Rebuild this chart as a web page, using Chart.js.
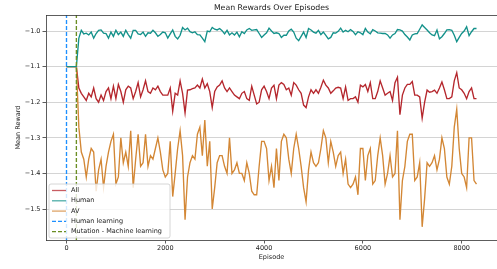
<!DOCTYPE html>
<html>
<head>
<meta charset="utf-8">
<script src="https://cdn.jsdelivr.net/npm/chart.js@4.4.1/dist/chart.umd.min.js"></script>
<style>
  html, body { margin: 0; padding: 0; background: #fff; }
  canvas { display: block; }
</style>
</head>
<body>
<canvas id="rewards" width="497" height="269"></canvas>
<script>
// episodes 0..8300, one point every 50
var episodes = [];
for (var e = 0; e <= 8300; e += 50) episodes.push(e);

var allRewards = [
  -1.1, -1.1, -1.1, -1.1, -1.1,
  -1.16, -1.175, -1.185, -1.195, -1.175, -1.185, -1.16, -1.19, -1.2, -1.18,
  -1.195, -1.17, -1.16, -1.19, -1.155, -1.19, -1.15, -1.17, -1.2, -1.165,
  -1.155, -1.16, -1.19, -1.17, -1.145, -1.185, -1.165, -1.14, -1.17, -1.175,
  -1.16, -1.165, -1.155, -1.17, -1.18,
  -1.18, -1.18, -1.16, -1.225, -1.175, -1.18, -1.14, -1.175, -1.23, -1.166,
  -1.165, -1.162, -1.16, -1.152, -1.16, -1.135, -1.16, -1.148, -1.17, -1.215,
  -1.17, -1.157, -1.152, -1.14, -1.16, -1.17, -1.16, -1.17, -1.18, -1.185,
  -1.19, -1.175, -1.17, -1.19, -1.195, -1.155, -1.18, -1.205, -1.2, -1.165,
  -1.155,
  -1.17, -1.19, -1.16, -1.152, -1.19, -1.152, -1.145, -1.15, -1.165, -1.16,
  -1.18, -1.145, -1.152, -1.165, -1.175, -1.208, -1.215, -1.185, -1.165, -1.175,
  -1.165, -1.175, -1.158, -1.138, -1.152, -1.16, -1.175, -1.168, -1.16, -1.158,
  -1.16, -1.19, -1.157, -1.195, -1.19, -1.19, -1.185, -1.2, -1.152,
  -1.157, -1.15, -1.17, -1.145, -1.19, -1.19, -1.17, -1.14, -1.16, -1.18,
  -1.175, -1.17, -1.195, -1.145, -1.13, -1.235, -1.18, -1.16, -1.15, -1.15,
  -1.142, -1.18, -1.18, -1.185, -1.245, -1.2, -1.166, -1.172, -1.17, -1.166,
  -1.175, -1.16, -1.143, -1.165, -1.19, -1.19, -1.185, -1.14, -1.117, -1.16,
  -1.165, -1.175, -1.19, -1.17, -1.16, -1.19, -1.19
];

var humanRewards = [
  -1.1, -1.1, -1.1, -1.1, -1.1,
  -1.02, -0.998, -1.008, -1.006, -1.011, -1.003, -1.02, -1.007, -0.998, -0.997,
  -1.006, -1.007, -1.02, -1.003, -1.015, -0.998, -1.01, -1.003, -1.015, -0.998,
  -1.01, -1.02, -0.998, -0.998, -1.008, -1.01, -1.003, -1.015, -1.005, -1.006,
  -0.998, -1.005, -1.015, -1.01, -1.003,
  -1.005, -1.02, -1.008, -0.997, -1.015, -1.022, -1.012, -0.99, -0.997, -0.992,
  -1.002, -1.005, -1.002, -1.01, -1.011, -1.02, -1.03, -1.0, -1.002, -0.99,
  -0.995, -0.997, -0.993, -0.999, -1.008, -0.998, -1.011, -1.005, -1.011, -1.003,
  -1.016, -1.002, -1.007, -0.997, -0.993, -0.998, -0.997, -0.996, -1.007, -1.018,
  -1.011,
  -1.005, -0.992, -1.0, -1.007, -1.005, -1.007, -1.018, -1.012, -1.012, -1.0,
  -0.995, -1.003, -1.02, -1.027, -1.015, -1.003, -1.018, -0.993, -0.997, -1.003,
  -1.006, -0.998, -1.01, -1.003, -1.012, -1.022, -1.018, -1.005, -1.006, -1.001,
  -0.992, -1.003, -0.998, -1.002, -0.996, -1.001, -1.01, -1.002, -1.005,
  -1.01, -0.993, -1.003, -1.008, -0.996, -1.0, -1.005, -1.006, -1.007, -1.007,
  -1.011, -1.02, -1.011, -1.007, -0.996, -0.997, -1.0, -1.01, -1.017, -1.025,
  -1.011, -1.008, -1.007, -0.995, -0.983, -0.99, -0.997, -1.005, -1.011, -1.013,
  -0.997, -1.022, -1.016, -1.007, -0.997, -0.996, -0.998, -1.012, -1.03, -1.018,
  -1.007, -1.0, -0.988, -1.013, -1.002, -0.993, -0.993
];

var avRewards = [
  -1.1, -1.1, -1.1, -1.1, -1.1,
  -1.27, -1.34, -1.36, -1.41, -1.36, -1.33, -1.34, -1.45, -1.39, -1.36,
  -1.44, -1.38, -1.34, -1.31, -1.29, -1.43, -1.41, -1.3, -1.37, -1.34,
  -1.38, -1.28, -1.44, -1.36, -1.29, -1.38, -1.37, -1.29, -1.38, -1.35,
  -1.36, -1.33, -1.3, -1.34, -1.39,
  -1.41, -1.4, -1.31, -1.465, -1.4, -1.33, -1.28, -1.35, -1.53, -1.41,
  -1.37, -1.35, -1.36, -1.29, -1.27, -1.35, -1.25, -1.38, -1.31, -1.5,
  -1.44, -1.37, -1.35, -1.35, -1.38, -1.4, -1.3, -1.4, -1.39, -1.37,
  -1.4, -1.4, -1.42, -1.37, -1.4, -1.45, -1.46, -1.46, -1.38, -1.31,
  -1.31,
  -1.33, -1.42, -1.38, -1.44, -1.33, -1.42, -1.31, -1.29, -1.3, -1.36,
  -1.4, -1.33, -1.29, -1.33, -1.38, -1.44, -1.48, -1.39, -1.34, -1.37,
  -1.38, -1.37, -1.33, -1.28, -1.3, -1.37, -1.31, -1.34, -1.38, -1.35,
  -1.34, -1.4, -1.36, -1.43, -1.44, -1.43, -1.41, -1.46, -1.33,
  -1.33, -1.42, -1.35, -1.33, -1.43, -1.42, -1.35, -1.3, -1.35, -1.43,
  -1.4, -1.35, -1.41, -1.4, -1.28, -1.53, -1.42, -1.38, -1.31, -1.29,
  -1.29, -1.42, -1.41, -1.37, -1.55, -1.47, -1.37, -1.38, -1.37, -1.35,
  -1.39, -1.36, -1.3, -1.33, -1.41, -1.43, -1.38, -1.27, -1.22, -1.33,
  -1.4, -1.41, -1.44, -1.3, -1.3, -1.42, -1.43
];

var humanLearningStart = 0;
var mutationStart = 200;
var xTicks = [0, 2000, 4000, 6000, 8000];
var yTicks = [-1.5, -1.4, -1.3, -1.2, -1.1, -1.0];
var xMin = -415, xMax = 8715;
var yMin = -1.587, yMax = -0.955;

var font = 'DejaVu Sans';

function pts(values) {
    return values.map(function (v, i) { return {x: episodes[i], y: v}; });
}

// title, top spine and the matplotlib-style legend box
var frame = {
    id: 'frame',
    afterDraw: function (chart) {
        var c = chart.ctx, a = chart.chartArea;
        c.save();
        c.strokeStyle = '#333';
        c.lineWidth = 0.8;
        c.beginPath();
        c.moveTo(a.left, a.top + 0.5);
        c.lineTo(a.right, a.top + 0.5);
        c.stroke();

        c.fillStyle = '#1a1a1a';
        c.font = '7.8px "' + font + '"';
        c.textAlign = 'center';
        c.textBaseline = 'middle';
        c.fillText('Mean Rewards Over Episodes', (a.left + a.right) / 2, 8);

        var bx = a.left + 3, by = a.bottom - 56, bw = 121, bh = 54;
        c.beginPath();
        c.roundRect(bx, by, bw, bh, 2);
        c.fillStyle = 'rgba(255,255,255,0.8)';
        c.fill();
        c.strokeStyle = '#cccccc';
        c.lineWidth = 0.8;
        c.stroke();

        c.font = '6.5px "' + font + '"';
        c.textAlign = 'left';
        chart.data.datasets.forEach(function (ds, i) {
            var y = by + 6.5 + i * 10.3;
            c.save();
            c.strokeStyle = ds.borderColor;
            c.globalAlpha = ds.borderDash ? 1 : 0.75;
            c.lineWidth = 1.3;
            c.setLineDash(ds.borderDash || []);
            c.beginPath();
            c.moveTo(bx + 3, y);
            c.lineTo(bx + 17, y);
            c.stroke();
            c.restore();
            c.fillStyle = '#1a1a1a';
            c.fillText(ds.label, bx + 22, y);
        });
        c.restore();
    }
};

var ctx = document.getElementById('rewards').getContext('2d');

var chart = new Chart(ctx, {
    type: 'line',
    data: {
        datasets: [
            {label: 'All', data: pts(allRewards), borderColor: '#b5272d', order: 3},
            {label: 'Human', data: pts(humanRewards), borderColor: '#13918a', order: 1},
            {label: 'AV', data: pts(avRewards), borderColor: '#d38735', order: 2},
            {label: 'Human learning', borderColor: '#1e90ff', borderDash: [4, 2], order: 0,
             data: [{x: humanLearningStart, y: yMin}, {x: humanLearningStart, y: yMax}]},
            {label: 'Mutation - Machine learning', borderColor: '#6b8e23', borderDash: [4, 2], order: 0,
             data: [{x: mutationStart, y: yMin}, {x: mutationStart, y: yMax}]}
        ]
    },
    options: {
        responsive: false,
        animation: false,
        devicePixelRatio: 1,
        elements: {
            point: {radius: 0},
            line: {borderWidth: 1.35, tension: 0, fill: false}
        },
        layout: {padding: {top: 15, right: 0, bottom: 0, left: 0}},
        plugins: {legend: {display: false}, tooltip: {enabled: false}},
        scales: {
            x: {
                type: 'linear',
                min: xMin,
                max: xMax,
                afterFit: function (s) { s.height = 29; },
                afterBuildTicks: function (s) { s.ticks = xTicks.map(function (v) { return {value: v}; }); },
                ticks: {
                    font: {family: font, size: 6.5},
                    color: '#222',
                    padding: 1,
                    maxRotation: 0,
                    callback: function (v) { return String(v); }
                },
                grid: {drawOnChartArea: false, tickLength: 3.5, tickColor: '#333', tickWidth: 0.8},
                border: {color: '#333', width: 0.8},
                title: {display: true, text: 'Episode', color: '#222',
                        font: {family: font, size: 6.5}, padding: {top: 0, bottom: 8}}
            },
            y: {
                min: yMin,
                max: yMax,
                afterFit: function (s) { s.width = 46; },
                afterBuildTicks: function (s) { s.ticks = yTicks.map(function (v) { return {value: v}; }); },
                ticks: {
                    font: {family: font, size: 6.5},
                    color: '#222',
                    padding: 2,
                    callback: function (v) { return (v < 0 ? '\u2212' : '') + Math.abs(v).toFixed(1); }
                },
                grid: {color: '#d4d4d4', lineWidth: 1, tickLength: 3.5, tickColor: '#333', tickWidth: 0.8},
                border: {color: '#333', width: 0.8},
                title: {display: true, text: 'Mean Reward', color: '#222',
                        font: {family: font, size: 6.5}, padding: {top: 14, bottom: 0}}
            }
        }
    },
    plugins: [frame]
});
</script>
</body>
</html>
